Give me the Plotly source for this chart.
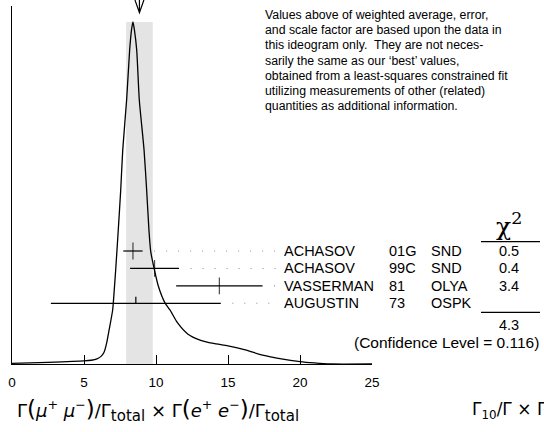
import plotly.graph_objects as go

# ---------------- data ----------------
names = ["ACHASOV", "ACHASOV", "VASSERMAN", "AUGUSTIN"]
codes = ["01G", "99C", "81", "73"]
experiments = ["SND", "SND", "OLYA", "OSPK"]
values = [8.4, 9.9, 14.4, 8.6]
errors = [0.67, 1.7, 3.0, 5.9]
chi2 = ["0.5", "0.4", "3.4", ""]
chi2_total = "4.3"
conf_level = "0.116"
avg_value = 8.85
avg_error = 0.925

# ideogram curve (peak normalised to 1)
curve_x = [0, 2.5, 5, 5.5, 5.9, 6.2, 6.4, 6.57, 6.74, 6.99, 7.1, 7.2, 7.29, 7.38,
           7.55, 7.69, 7.96, 8.17, 8.3, 8.4, 8.5, 8.66, 8.84, 9.17, 9.35, 9.51,
           9.63, 9.86, 10.16, 10.63, 10.97, 11.5, 12.2, 13.06, 14.0, 15.0, 16.2,
           17.4, 18.7, 20.0, 21.0, 22.1, 25]
curve_y = [0.002, 0.005, 0.009, 0.011, 0.015, 0.023, 0.035, 0.061, 0.099, 0.158,
           0.216, 0.275, 0.333, 0.392, 0.509, 0.626, 0.772, 0.918, 0.977, 1.0,
           0.977, 0.918, 0.772, 0.626, 0.509, 0.392, 0.330, 0.281, 0.228, 0.178,
           0.158, 0.120, 0.088, 0.070, 0.060, 0.053, 0.041, 0.026, 0.015, 0.007,
           0.003, 0.0, 0.0]

tick_vals = [0, 5, 10, 15, 20, 25]

note_lines = [
    "Values above of weighted average, error,",
    "and scale factor are based upon the data in",
    "this ideogram only.\u00a0 They are not neces-",
    "sarily the same as our \u2018best\u2019 values,",
    "obtained from a least-squares constrained fit",
    "utilizing measurements of other (related)",
    "quantities as additional information.",
]

FONT = "Liberation Sans, Arial, Helvetica, sans-serif"
rows = list(range(len(names)))
XMIN, XMAX = 0, 25

# layout geometry (pixels)
W, H = 544, 432
L, R, T, B = 12, 172, 6, 68
PW, PH = W - L - R, H - T - B
plot_top, plot_bot = T, H - B
row_px0, row_step = 251.0, 17.43


def px_to_paper_x(px):
    return (px - L) / PW


def py_to_paper_y(py):
    return (plot_bot - py) / PH


fig = go.Figure()

# weighted-average band
fig.add_shape(type="rect", xref="x", yref="y",
              x0=avg_value - avg_error, x1=avg_value + avg_error,
              y0=0, y1=max(curve_y), fillcolor="#e4e4e4", line_width=0, layer="below")

# ideogram curve
fig.add_trace(go.Scatter(x=curve_x, y=curve_y, mode="lines",
                         line=dict(color="black", width=1.3, shape="spline", smoothing=0.6),
                         hoverinfo="skip", showlegend=False))

# leader dots
for k in rows:
    x0 = values[k] + errors[k] + 0.8
    fig.add_trace(go.Scatter(x=[x0, 18.45], y=[k, k], yaxis="y2", mode="lines",
                             line=dict(color="#8c8c8c", width=1.1, dash="1px,11px"),
                             hoverinfo="skip", showlegend=False))

# measurements with error bars
fig.add_trace(go.Scatter(
    x=values, y=rows, yaxis="y2", mode="markers",
    marker=dict(symbol="line-ns", size=[12 if chi2[k] != "" else 0 for k in rows],
                line=dict(color="black", width=1.2), color="black"),
    error_x=dict(type="data", array=errors, width=0, thickness=1.2, color="black"),
    hoverinfo="skip", showlegend=False))
# half tick for entries without chi2
for k in rows:
    if chi2[k] == "":
        fig.add_trace(go.Scatter(x=[values[k], values[k]], y=[k, k - 0.38], yaxis="y2",
                                 mode="lines", line=dict(color="black", width=1.2),
                                 hoverinfo="skip", showlegend=False))

# arrow at weighted average (paper coords)
ax = (avg_value - XMIN) / (XMAX - XMIN)
dx = 0.31 / (XMAX - XMIN)
ytop, ytip = py_to_paper_y(0), py_to_paper_y(12.7)
fig.add_shape(type="path", xref="paper", yref="paper",
              path=f"M {ax-dx},{ytop} L {ax},{ytip} L {ax+dx},{ytop} M {ax},{ytop} L {ax},{ytip}",
              line=dict(color="black", width=1.2))

TS = 14.5
annotations = []
col_code = px_to_paper_x(387)
col_exp = px_to_paper_x(429)
col_chi = px_to_paper_x(509)
for k in rows:
    annotations.append(dict(x=18.75, y=k, xref="x", yref="y2", text=names[k],
                            xanchor="left", yanchor="middle", showarrow=False,
                            font=dict(size=TS, family=FONT, color="black")))
    annotations.append(dict(x=col_code, y=k, xref="paper", yref="y2", text=codes[k],
                            xanchor="left", yanchor="middle", showarrow=False,
                            font=dict(size=TS, family=FONT, color="black")))
    annotations.append(dict(x=col_exp, y=k, xref="paper", yref="y2", text=experiments[k],
                            xanchor="left", yanchor="middle", showarrow=False,
                            font=dict(size=TS, family=FONT, color="black")))
    if chi2[k]:
        annotations.append(dict(x=col_chi, y=k, xref="paper", yref="y2", text=chi2[k],
                                xanchor="center", yanchor="middle", showarrow=False,
                                font=dict(size=TS, family=FONT, color="black")))
annotations.append(dict(x=col_chi, y=py_to_paper_y(243), xref="paper", yref="paper",
                        text="\u03c7<sup>2</sup>", xanchor="center", yanchor="bottom",
                        showarrow=False,
                        font=dict(size=25, family="DejaVu Serif, serif", color="black")))
annotations.append(dict(x=col_chi, y=py_to_paper_y(325), xref="paper", yref="paper",
                        text=chi2_total, xanchor="center", yanchor="middle", showarrow=False,
                        font=dict(size=TS, family=FONT, color="black")))
annotations.append(dict(x=px_to_paper_x(541), y=py_to_paper_y(342), xref="paper", yref="paper",
                        text=f"(Confidence Level = {conf_level})",
                        xanchor="right", yanchor="middle", showarrow=False,
                        font=dict(size=15.5, family=FONT, color="black")))

# explanatory note
for i, line in enumerate(note_lines):
    annotations.append(dict(x=px_to_paper_x(263), y=py_to_paper_y(15 + 15.2 * i),
                            xref="paper", yref="paper", text=line, xanchor="left",
                            yanchor="middle", showarrow=False,
                            font=dict(size=12.3, family=FONT, color="black")))

# axis titles
BIG = "<span style='font-size:23px'>%s</span>"
SUB = "<sub><span style='font-size:15px'>total</span></sub>"
title_left = ("\u0393" + BIG % "(" + "<i>\u03bc</i><sup>+</sup> <i>\u03bc</i><sup>\u2212</sup>"
              + BIG % ")" + "/\u0393" + SUB + " \u00d7 \u0393" + BIG % "("
              + "<i>e</i><sup>+</sup> <i>e</i><sup>\u2212</sup>" + BIG % ")" + "/\u0393" + SUB)
annotations.append(dict(
    x=px_to_paper_x(15), y=py_to_paper_y(410), xref="paper", yref="paper",
    text=title_left, xanchor="left", yanchor="middle", showarrow=False,
    font=dict(size=18, family="DejaVu Sans, sans-serif", color="black")))
annotations.append(dict(
    x=px_to_paper_x(470), y=py_to_paper_y(410), xref="paper", yref="paper",
    text="\u0393<sub>10</sub>/\u0393 \u00d7 \u0393<sub>7</sub>/\u0393",
    xanchor="left", yanchor="middle", showarrow=False,
    font=dict(size=17, family="DejaVu Sans, sans-serif", color="black")))

# chi2 column rules
for py in (241.7, 312.3):
    fig.add_shape(type="line", xref="paper", yref="paper",
                  x0=px_to_paper_x(481), x1=px_to_paper_x(540),
                  y0=py_to_paper_y(py), y1=py_to_paper_y(py),
                  line=dict(color="black", width=1.2))

fig.update_layout(
    width=W, height=H,
    margin=dict(l=L, r=R, t=T, b=B, pad=0),
    paper_bgcolor="white", plot_bgcolor="white",
    showlegend=False,
    xaxis=dict(range=[XMIN, XMAX], showline=True, linecolor="black", linewidth=1.2,
               ticks="inside", ticklen=9, tickwidth=1.2, tickcolor="black",
               tickvals=tick_vals, ticktext=[str(v) for v in tick_vals],
               ticklabelstandoff=6,
               tickfont=dict(size=13.5, family=FONT, color="black"),
               showgrid=False, zeroline=False),
    yaxis=dict(range=[0, max(curve_y) * (plot_bot - plot_top) / (plot_bot - 22.0)],
               showline=True, linecolor="black", linewidth=1.3,
               showticklabels=False, ticks="", showgrid=False, zeroline=False),
    yaxis2=dict(overlaying="y", visible=False,
                range=[(plot_bot - row_px0) / row_step, (plot_top - row_px0) / row_step]),
    annotations=annotations,
)

fig.write_html("out.html", config={"displayModeBar": False},
               post_script="document.body.style.margin='0';")
